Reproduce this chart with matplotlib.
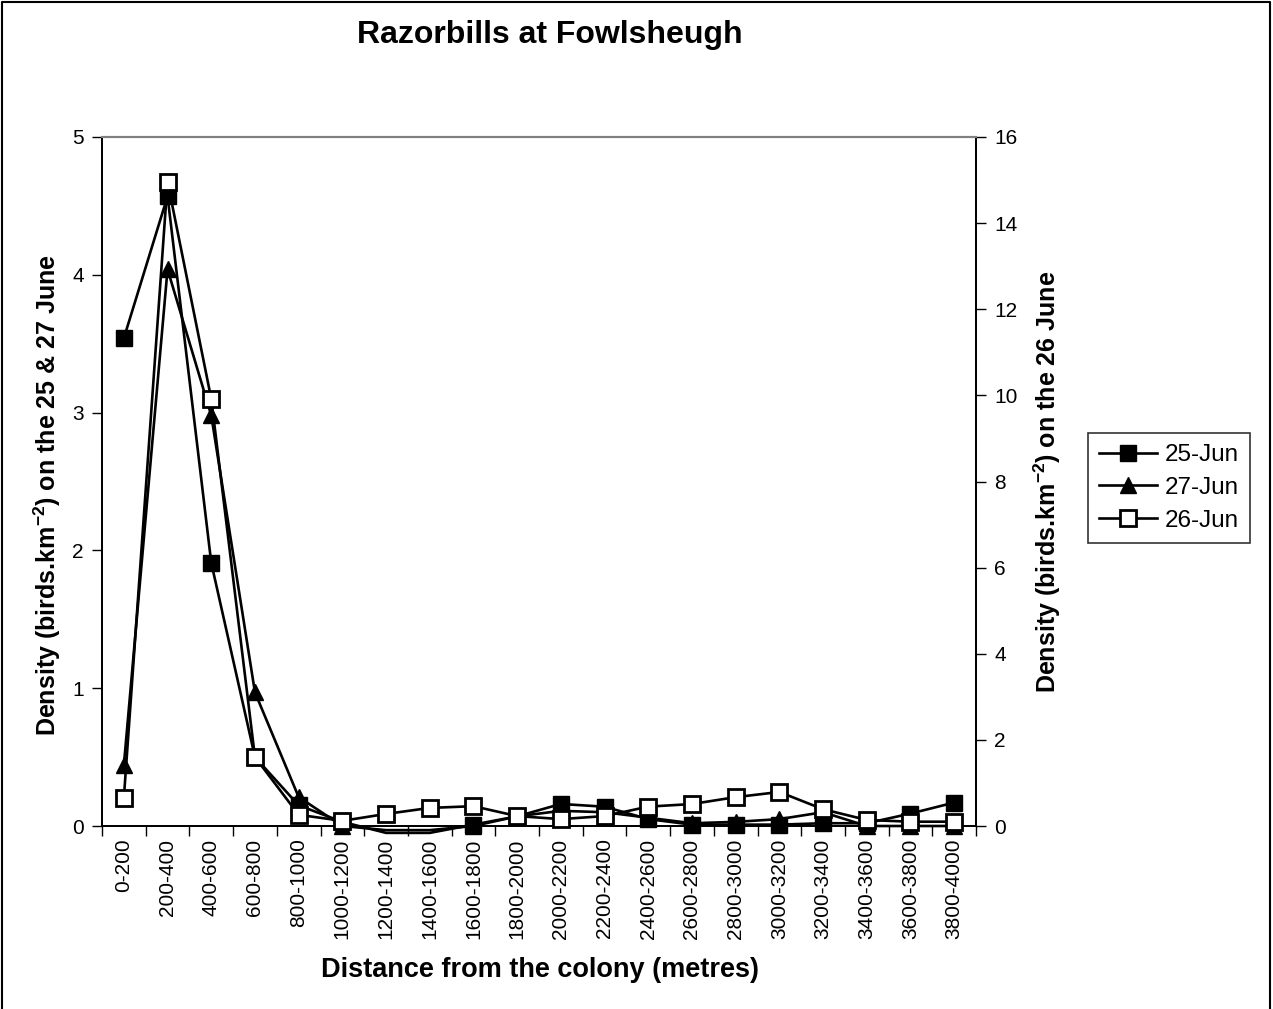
import matplotlib
matplotlib.use("Agg")
import matplotlib.pyplot as plt
from matplotlib.lines import Line2D

plt.rcParams['font.family'] = ['Liberation Sans', 'DejaVu Sans']
plt.rcParams['mathtext.fontset'] = 'custom'
plt.rcParams['mathtext.bf'] = 'Liberation Sans:bold'
plt.rcParams['mathtext.rm'] = 'Liberation Sans'

categories = ["0-200", "200-400", "400-600", "600-800", "800-1000", "1000-1200",
              "1200-1400", "1400-1600", "1600-1800", "1800-2000", "2000-2200",
              "2200-2400", "2400-2600", "2600-2800", "2800-3000", "3000-3200",
              "3200-3400", "3400-3600", "3600-3800", "3800-4000"]
jun25 = [3.54, 4.57, 1.91, 0.50, 0.15, 0.03, -0.05, -0.05, 0.01, 0.07,
         0.16, 0.14, 0.05, 0.01, 0.01, 0.01, 0.02, 0.02, 0.09, 0.17]
jun27 = [0.44, 4.04, 2.98, 0.97, 0.21, 0.0, -0.03, -0.03, 0.0, 0.07,
         0.11, 0.10, 0.06, 0.02, 0.03, 0.05, 0.10, 0.0, 0.0, 0.0]
jun26 = [0.65, 14.96, 9.92, 1.60, 0.26, 0.12, 0.28, 0.42, 0.46, 0.23,
         0.16, 0.23, 0.45, 0.51, 0.67, 0.79, 0.39, 0.14, 0.10, 0.10]

W, H = 1273, 1009
fig = plt.figure(figsize=(W / 100, H / 100), dpi=100)
L, R, T, B = 102, 976, 137, 826
ax = fig.add_axes([L / W, 1 - B / H, (R - L) / W, (B - T) / H])
ax2 = ax.twinx()

x = list(range(len(categories)))
lw = 1.9
ms = 11

def vis(vals):
    return [i for i, v in enumerate(vals) if v >= 0]

ax.plot(x, jun25, color='black', lw=lw, marker='s', ms=ms, mfc='black', mec='black',
        markevery=vis(jun25), clip_on=False, zorder=3)
ax.plot(x, jun27, color='black', lw=lw, marker='^', ms=ms + 1, mfc='black', mec='black',
        markevery=vis(jun27), clip_on=False, zorder=3)
ax2.plot(x, jun26, color='black', lw=lw, marker='s', ms=ms, mfc='white', mec='black',
         mew=2, clip_on=False, zorder=3)

ax.set_xlim(-0.5, len(categories) - 0.5)
ax.set_ylim(0, 5)
ax2.set_ylim(0, 16)
ax.set_yticks(range(0, 6))
ax2.set_yticks(range(0, 17, 2))

ax.set_xticks([i - 0.5 for i in range(len(categories) + 1)])
ax.set_xticklabels([])
ax.set_xticks(x, minor=True)
ax.set_xticklabels(categories, minor=True, rotation=90, fontsize=15)
ax.tick_params(axis='x', which='major', length=7, width=1, direction='out')
ax.tick_params(axis='x', which='minor', length=0, pad=9)
ax.tick_params(axis='y', labelsize=15, length=7, width=1, direction='out', pad=6)
ax2.tick_params(axis='y', labelsize=15, length=7, width=1, direction='out', pad=6)

for a in (ax, ax2):
    a.spines['top'].set_color('#808080')
    a.spines['top'].set_linewidth(1.5)
    a.spines['left'].set_linewidth(1.3)
    a.spines['right'].set_linewidth(1.3)
    a.spines['bottom'].set_linewidth(1.3)

ax.set_ylabel("Density (birds.km$^{\\mathbf{-2}}$) on the 25 & 27 June", fontsize=18,
              fontweight='bold')
ax.yaxis.set_label_coords(-0.045, 0.48)
ax2.set_ylabel("Density (birds.km$^{\\mathbf{-2}}$) on the 26 June", fontsize=18,
               fontweight='bold')
ax2.yaxis.set_label_coords(1.064, 0.5)
ax.set_xlabel("Distance from the colony (metres)", fontsize=19.5, fontweight='bold')
ax.xaxis.set_label_coords(0.501, -0.19)

fig.text(550 / W, 1 - 35 / H, "Razorbills at Fowlsheugh", fontsize=23, fontweight='bold',
         ha='center', va='center')

handles = [
    Line2D([], [], color='black', lw=lw, marker='s', ms=ms, mfc='black', mec='black'),
    Line2D([], [], color='black', lw=lw, marker='^', ms=ms + 1, mfc='black', mec='black'),
    Line2D([], [], color='black', lw=lw, marker='s', ms=ms, mfc='white', mec='black', mew=2),
]
leg = fig.legend(handles, ["25-Jun", "27-Jun", "26-Jun"], loc='center',
                 bbox_to_anchor=(1169 / W, 1 - 488 / H), fontsize=17.5, frameon=True,
                 fancybox=False, edgecolor='black', handlelength=2.4, handletextpad=0.3,
                 borderpad=0.45, labelspacing=0.45)
leg.get_frame().set_linewidth(1.2)

# outer border
fig.add_artist(Line2D([2 / W, 2 / W, 1270 / W, 1270 / W], [0, 1 - 2 / H, 1 - 2 / H, 0],
                      transform=fig.transFigure, color='black', lw=1.5))

fig.savefig("out.png", dpi=100)
